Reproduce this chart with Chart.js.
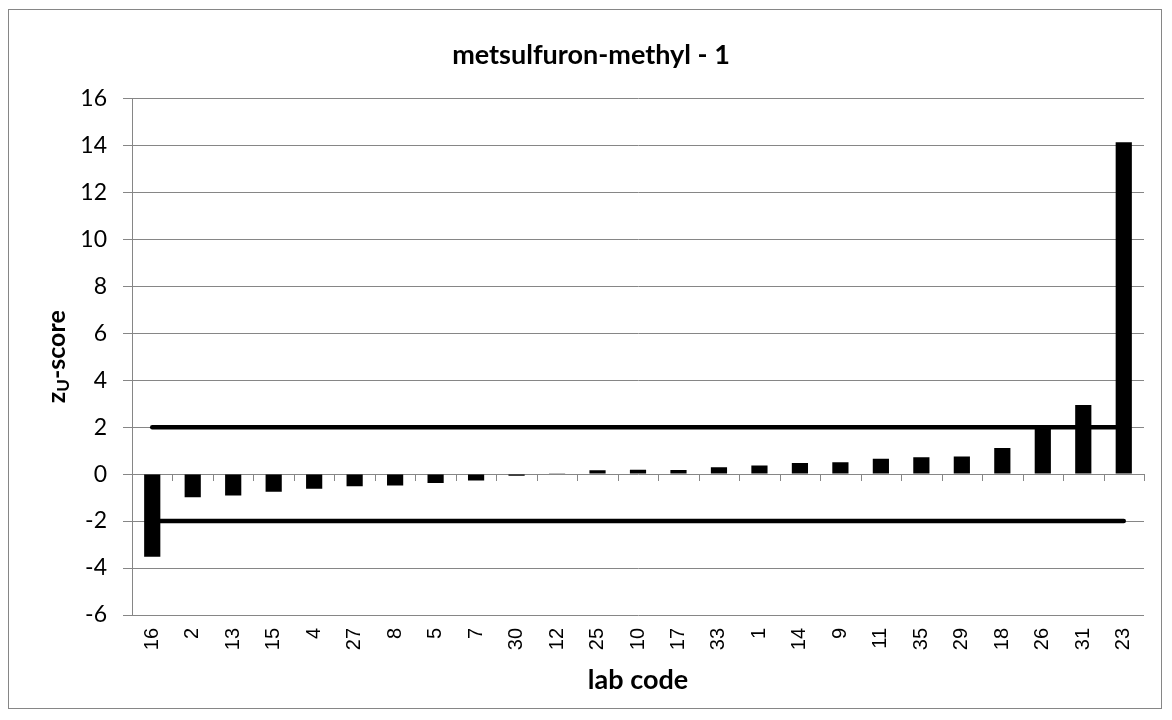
<!DOCTYPE html>
<html>
<head>
<meta charset="utf-8">
<script src="https://cdn.jsdelivr.net/npm/chart.js@4/dist/chart.umd.min.js"></script>
<style>
    body { margin: 0; background: #fff; }
    #box {
        position: absolute; left: 8px; top: 9px;
        width: 1152px; height: 698px;
        border: 1px solid #868686;
    }
</style>
</head>
<body>
<div id="box"><canvas id="zscore"></canvas></div>
<script>
// lab codes, sorted by score as in the report
var labCodes = ['16', '2', '13', '15', '4', '27', '8', '5', '7', '30', '12', '25', '10',
    '17', '33', '1', '14', '9', '11', '35', '29', '18', '26', '31', '23'];
var zScores = [-3.52, -0.99, -0.91, -0.75, -0.62, -0.52, -0.48, -0.38, -0.27, -0.07, 0.02, 0.16, 0.19,
    0.18, 0.29, 0.37, 0.47, 0.50, 0.65, 0.72, 0.75, 1.11, 2.0, 2.94, 14.13];
// limit lines |z| = 2, drawn from first to last lab
var limitLabs = ['16', '23'];
var upperLimit = [2, 2];
var lowerLimit = [-2, -2];
var yTicks = [-6, -4, -2, 0, 2, 4, 6, 8, 10, 12, 14, 16];

var gridGray = '#868686';
var calibri = "Lato, 'Open Sans', sans-serif";

function limitPoints(vals) {
    var pts = [];
    for (var i = 0; i < limitLabs.length; ++i) {
        pts.push({x: limitLabs[i], y: vals[i]});
    }
    return pts;
}

// y title with subscript U
var yTitlePlugin = {
    id: 'yTitle',
    afterDraw: function (chart) {
        var ctx = chart.ctx;
        var area = chart.chartArea;
        var big = "bold 25px " + calibri;
        var small = "bold 17px " + calibri;
        ctx.save();
        ctx.font = big;
        var w1 = ctx.measureText('z').width;
        var w3 = ctx.measureText('-score').width;
        ctx.font = small;
        var w2 = ctx.measureText('U').width;
        var total = w1 + w2 + w3;
        ctx.translate(48, (area.top + area.bottom) / 2);
        ctx.rotate(-Math.PI / 2);
        ctx.fillStyle = '#000';
        ctx.textBaseline = 'middle';
        var x = -total / 2;
        ctx.font = big;
        ctx.fillText('z', x, 0);
        x += w1;
        ctx.font = small;
        ctx.fillText('U', x, 7);
        x += w2;
        ctx.font = big;
        ctx.fillText('-score', x, 0);
        ctx.restore();
    }
};

// category tick marks on the zero line
var zeroTicksPlugin = {
    id: 'zeroTicks',
    afterDatasetsDraw: function (chart) {
        var ctx = chart.ctx;
        var xs = chart.scales.x;
        var y0 = Math.round(chart.scales.y.getPixelForValue(0));
        var half = (xs.getPixelForValue(1) - xs.getPixelForValue(0)) / 2;
        ctx.save();
        ctx.strokeStyle = gridGray;
        ctx.lineWidth = 1;
        ctx.beginPath();
        for (var i = 0; i <= labCodes.length; ++i) {
            var x = Math.round(xs.getPixelForValue(i) - half) + 0.5;
            ctx.moveTo(x, y0);
            ctx.lineTo(x, y0 + 7);
        }
        ctx.stroke();
        ctx.restore();
    }
};

var ctx = document.getElementById('zscore');
var chart = new Chart(ctx, {
    type: 'bar',
    data: {
        labels: labCodes,
        datasets: [
            {
                type: 'line',
                label: 'upper',
                data: limitPoints(upperLimit),
                borderColor: '#000',
                borderWidth: 4.5,
                borderCapStyle: 'round',
                pointRadius: 0,
                order: 1
            },
            {
                type: 'line',
                label: 'lower',
                data: limitPoints(lowerLimit),
                borderColor: '#000',
                borderWidth: 4.5,
                borderCapStyle: 'round',
                pointRadius: 0,
                order: 1
            },
            {
                label: 'z-score',
                data: zScores,
                backgroundColor: '#000',
                barPercentage: 0.4,
                categoryPercentage: 1.0,
                order: 2
            }
        ]
    },
    options: {
        responsive: true,
        maintainAspectRatio: false,
        animation: false,
        layout: {padding: {left: 24, right: 12, top: 0, bottom: 0}},
        plugins: {
            legend: {display: false},
            tooltip: {enabled: false},
            title: {
                display: true,
                text: 'metsulfuron-methyl - 1',
                color: '#000',
                font: {family: calibri, size: 27, weight: 'bold'},
                padding: {top: 29, bottom: 27}
            }
        },
        scales: {
            x: {
                position: 'bottom',
                grid: {display: false, drawTicks: false},
                border: {display: false},
                ticks: {
                    color: '#000',
                    font: {family: "'Liberation Sans', Arial, sans-serif", size: 20},
                    minRotation: 90,
                    maxRotation: 90,
                    padding: 13,
                    autoSkip: false
                },
                title: {
                    display: true,
                    text: 'lab code',
                    color: '#000',
                    font: {family: calibri, size: 27, weight: 'bold'},
                    padding: {top: 0, bottom: 12}
                },
                afterFit: function (s) { s.height = 93; }
            },
            y: {
                min: -6,
                max: 16,
                afterBuildTicks: function (s) {
                    s.ticks = yTicks.map(function (v) { return {value: v}; });
                },
                grid: {color: gridGray, tickLength: 9},
                border: {color: gridGray},
                ticks: {
                    color: '#000',
                    font: {family: calibri, size: 23},
                    padding: 16
                },
                afterFit: function (s) { s.width = 99; }
            }
        }
    },
    plugins: [yTitlePlugin, zeroTicksPlugin]
});
</script>
</body>
</html>
